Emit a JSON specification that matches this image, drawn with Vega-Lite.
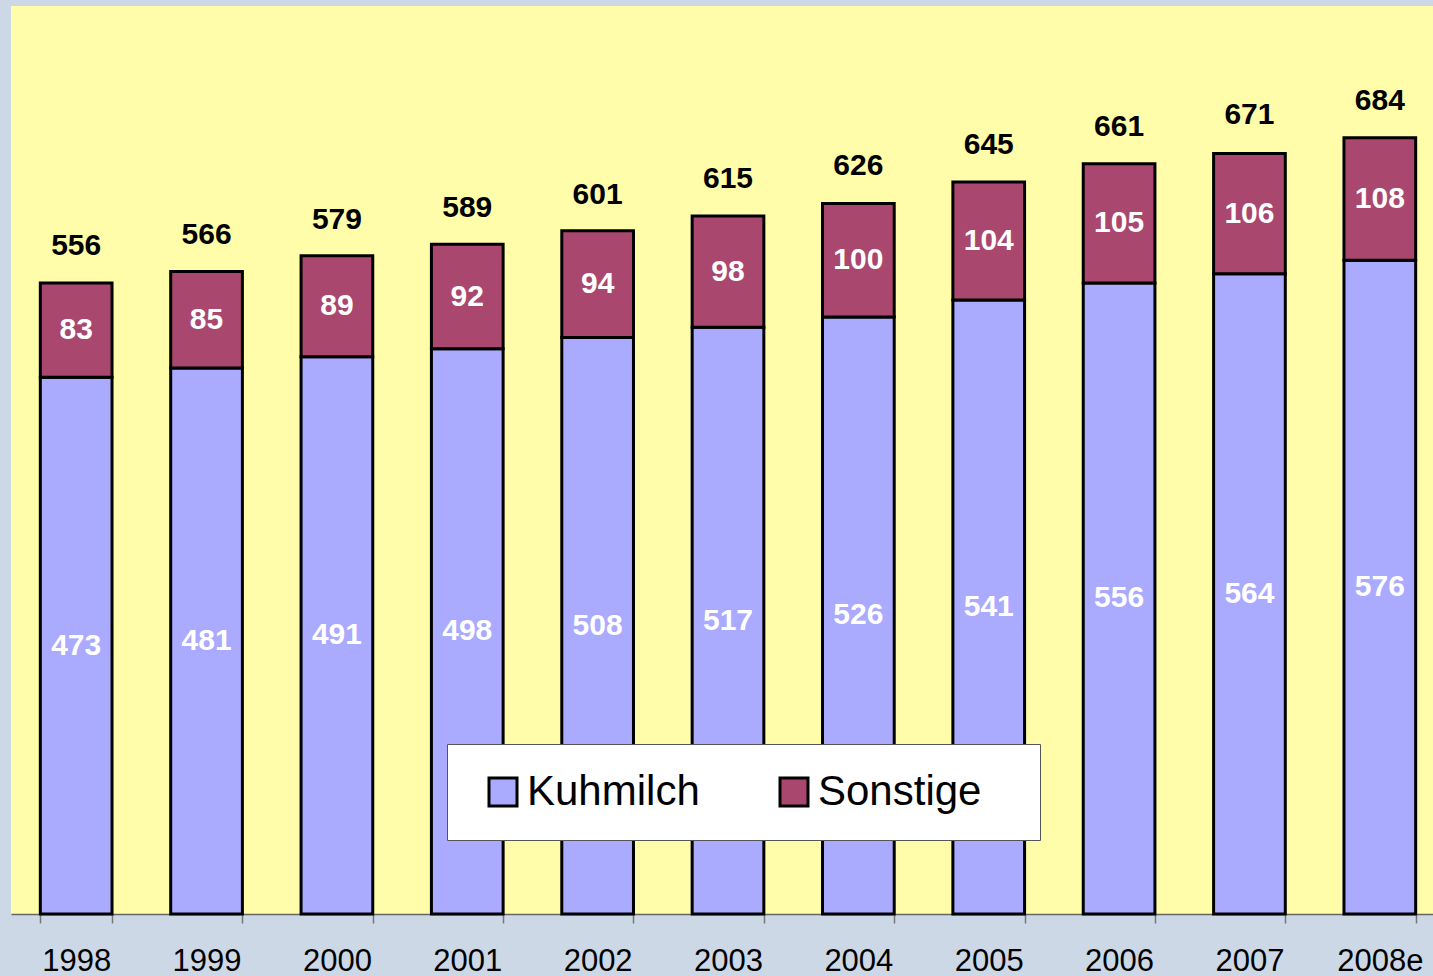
{
  "$schema": "https://vega.github.io/schema/vega-lite/v6.json",
  "width": 1422,
  "height": 908,
  "padding": {"left": 11, "top": 6, "right": 0, "bottom": 0},
  "background": "#CCD8E6",
  "config": {"view": {"fill": "#FFFDAA", "stroke": null}, "font": "Liberation Sans"},
  "datasets": {
    "parts": [
      {"year": "1998", "type": "Kuhmilch", "value": 473}, {"year": "1998", "type": "Sonstige", "value": 83},
      {"year": "1999", "type": "Kuhmilch", "value": 481}, {"year": "1999", "type": "Sonstige", "value": 85},
      {"year": "2000", "type": "Kuhmilch", "value": 491}, {"year": "2000", "type": "Sonstige", "value": 89},
      {"year": "2001", "type": "Kuhmilch", "value": 498}, {"year": "2001", "type": "Sonstige", "value": 92},
      {"year": "2002", "type": "Kuhmilch", "value": 508}, {"year": "2002", "type": "Sonstige", "value": 94},
      {"year": "2003", "type": "Kuhmilch", "value": 517}, {"year": "2003", "type": "Sonstige", "value": 98},
      {"year": "2004", "type": "Kuhmilch", "value": 526}, {"year": "2004", "type": "Sonstige", "value": 100},
      {"year": "2005", "type": "Kuhmilch", "value": 541}, {"year": "2005", "type": "Sonstige", "value": 104},
      {"year": "2006", "type": "Kuhmilch", "value": 556}, {"year": "2006", "type": "Sonstige", "value": 105},
      {"year": "2007", "type": "Kuhmilch", "value": 564}, {"year": "2007", "type": "Sonstige", "value": 106},
      {"year": "2008e", "type": "Kuhmilch", "value": 576}, {"year": "2008e", "type": "Sonstige", "value": 108}
    ],
    "totals": [
      {"year": "1998", "total": 556}, {"year": "1999", "total": 566}, {"year": "2000", "total": 579},
      {"year": "2001", "total": 589}, {"year": "2002", "total": 601}, {"year": "2003", "total": 615},
      {"year": "2004", "total": 626}, {"year": "2005", "total": 645}, {"year": "2006", "total": 661},
      {"year": "2007", "total": 671}, {"year": "2008e", "total": 684}
    ]
  },
  "encoding": {
    "x": {
      "field": "year", "type": "nominal", "sort": null,
      "scale": {"range": [0, 1434], "paddingInner": 0.45, "paddingOuter": 0.225},
      "axis": {
        "title": null, "labelAngle": 0, "labelFontSize": 31, "labelColor": "#000000",
        "labelFont": "Liberation Sans", "labelPadding": 23, "tickBand": "extent",
        "tickSize": 9, "tickColor": "#777777", "tickWidth": 1.5, "domainColor": "#666666", "domainWidth": 1.5
      }
    }
  },
  "layer": [
    {
      "data": {"name": "parts"},
      "mark": {"type": "bar", "stroke": "#000000", "strokeWidth": 3},
      "encoding": {
        "y": {"field": "value", "type": "quantitative", "stack": "zero", "scale": {"domain": [0, 800]}, "axis": null},
        "order": {"field": "type", "sort": "ascending"},
        "color": {
          "field": "type", "type": "nominal",
          "scale": {"domain": ["Kuhmilch", "Sonstige"], "range": ["#AAAAFF", "#A9476F"]},
          "legend": {
            "title": null, "orient": "none", "legendX": 436, "legendY": 738, "direction": "horizontal",
            "fillColor": "#FFFFFF", "strokeColor": "#555555", "padding": 27, "symbolOffset": 8,
            "symbolType": "square", "symbolSize": 784, "symbolStrokeColor": "#000000", "symbolStrokeWidth": 3,
            "symbolOpacity": 1, "labelFontSize": 42, "labelFont": "Liberation Sans", "labelColor": "#000000",
            "labelOffset": 3, "labelLimit": 400, "columnPadding": 65,
            "labelExpr": "datum.label == 'Sonstige' ? datum.label + '\u2800' : datum.label"
          }
        }
      }
    },
    {
      "data": {"name": "parts"},
      "transform": [
        {"stack": "value", "groupby": ["year"], "sort": [{"field": "type"}], "as": ["v0", "v1"]},
        {"calculate": "(datum.v0 + datum.v1) / 2", "as": "mid"}
      ],
      "mark": {"type": "text", "color": "#FFFFFF", "fontSize": 30, "fontWeight": "bold", "baseline": "middle", "font": "Liberation Sans"},
      "encoding": {
        "y": {"field": "mid", "type": "quantitative", "axis": null},
        "text": {"field": "value", "type": "quantitative"}
      }
    },
    {
      "data": {"name": "totals"},
      "mark": {"type": "text", "color": "#000000", "fontSize": 30, "fontWeight": "bold", "baseline": "alphabetic", "dy": -28, "font": "Liberation Sans"},
      "encoding": {
        "y": {"field": "total", "type": "quantitative", "axis": null},
        "text": {"field": "total", "type": "quantitative"}
      }
    }
  ]
}
